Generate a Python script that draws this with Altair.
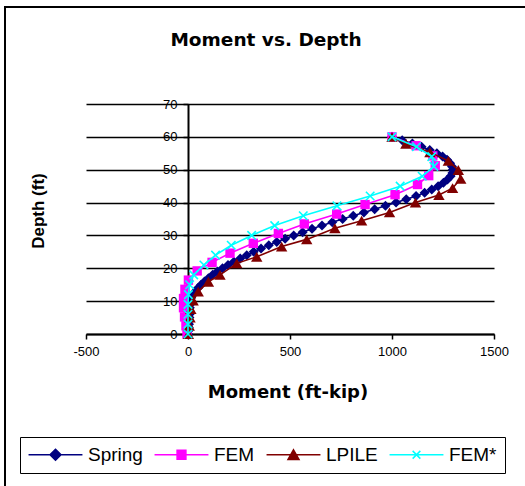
import altair as alt
import pandas as pd

# ---- data -------------------------------------------------------------
series_names = ["Spring", "FEM", "LPILE", "FEM*"]
series_colors = ["#000080", "#FF00FF", "#800000", "#00FFFF"]

spring_depth = [60, 59, 58, 57, 56, 55, 54, 53, 52, 51, 50, 49, 48, 47, 46, 45,
                44, 43, 42, 41, 40, 39, 38, 37, 36, 35, 34, 33, 32, 31, 30, 29,
                28, 27, 26, 25, 24, 23, 22, 21, 20, 19, 18, 17, 16, 15, 14, 13,
                12, 11, 10, 9, 8, 7, 6, 5, 4, 3, 2, 1, 0]
spring_moment = [1000, 1050, 1100, 1145, 1185, 1220, 1248, 1270, 1285, 1294,
                 1298, 1296, 1287, 1272, 1252, 1226, 1195, 1160, 1118, 1070,
                 1020, 968, 915, 862, 810, 758, 707, 657, 608, 562, 518, 476,
                 435, 396, 358, 322, 288, 256, 225, 196, 169, 144, 121, 100,
                 81, 64, 49, 36, 25, 16, 12, 10, 9, 8, 8, 7, 6, 5, 4, 2, 0]

fem_depth = [60, 57.3, 54.2, 51.2, 48.2, 45.5, 42.4, 39.4, 36.5, 33.5, 30.6,
             27.6, 24.6, 21.8, 19.2, 16.4, 13.6, 10.8, 8.0, 5.2, 2.5, 0]
fem_moment = [1000, 1118, 1200, 1212, 1180, 1125, 1015, 868, 729, 570, 443,
              320, 206, 118, 45, 2, -15, -22, -22, -17, -10, -5]

lpile_depth = [60, 57.9, 55.3, 52.7, 49.9, 47.2, 44.4, 42.3, 40.0, 37.0, 34.5,
               32.2, 28.8, 26.6, 23.5, 21.5, 18.0, 15.9, 12.9, 10.2, 7.6, 5.0,
               2.5, 0]
lpile_moment = [1000, 1068, 1186, 1276, 1325, 1337, 1297, 1230, 1115, 988, 851,
                720, 582, 459, 337, 239, 157, 100, 50, 25, 14, 10, 6, 2]

femstar_depth = [60, 57, 54, 51, 48, 45, 42, 39, 36, 33, 30, 27, 24, 21, 18,
                 15, 12, 9, 6, 3, 0]
femstar_moment = [1000, 1120, 1195, 1205, 1148, 1040, 893, 730, 565, 425, 312,
                  212, 135, 78, 28, 8, 2, 0, 0, 0, 0]

x_ticks = [-500, 0, 500, 1000, 1500]
y_ticks = [0, 10, 20, 30, 40, 50, 60, 70]

chart_title = "Moment vs. Depth"
x_title = "Moment (ft-kip)"
y_title = "Depth (ft)"

depths = [spring_depth, fem_depth, lpile_depth, femstar_depth]
moments = [spring_moment, fem_moment, lpile_moment, femstar_moment]

frames = []
for name, d, m in zip(series_names, depths, moments):
    frames.append(pd.DataFrame({"series": name, "depth": d, "moment": m,
                                "seq": list(range(len(d)))}))
df = pd.concat(frames, ignore_index=True)

# ---- layout -----------------------------------------------------------
W, H = 408, 230
PAD = {"left": 86, "top": 104, "right": 31, "bottom": 152}

# plain integer labels with an ASCII hyphen for negatives
plain_label = "'' + datum.value"

x_enc = alt.X(
    "moment:Q",
    scale=alt.Scale(domain=[-500, 1500], nice=False, zero=False),
    axis=alt.Axis(values=x_ticks, labelExpr=plain_label, title=None,
                  grid=False, domainColor="black", domainWidth=2,
                  tickColor="black", tickSize=5, tickWidth=1.5,
                  labelFont="Liberation Sans", labelFontSize=13,
                  labelColor="black", labelPadding=6, labelFlush=False),
)
y_enc = alt.Y(
    "depth:Q",
    scale=alt.Scale(domain=[0, 70], nice=False, zero=False),
    axis=alt.Axis(values=y_ticks, labelExpr=plain_label, title=None,
                  grid=True, gridColor="black", gridWidth=1.5, gridOpacity=1,
                  offset=-102, domainColor="black", domainWidth=2,
                  tickColor="black", tickSize=5, tickWidth=1.5,
                  labelFont="Liberation Sans", labelFontSize=13,
                  labelColor="black", labelPadding=6),
)

base = alt.Chart(df)

marker_styles = {
    "Spring": dict(shape="diamond", filled=True, size=100),
    "FEM": dict(shape="square", filled=True, size=88),
    "LPILE": dict(shape="triangle-up", filled=True, size=130),
    "FEM*": dict(shape="M-1,-1L1,1M-1,1L1,-1", filled=False, size=72,
                 strokeWidth=1.6),
}

layers = []

# outer chart frame
frame = alt.Chart(alt.Data(values=[{}])).mark_rect(
    fill=None, stroke="black", strokeWidth=2
).encode(x=alt.value(-81), x2=alt.value(470), y=alt.value(-97),
         y2=alt.value(420))
layers.append(frame)

for name, color in zip(series_names, series_colors):
    sub = base.transform_filter(alt.datum.series == name)
    line = sub.mark_line(color=color, strokeWidth=1.6).encode(
        x=x_enc, y=y_enc, order=alt.Order("seq:Q"))
    pts = sub.mark_point(color=color, opacity=1, **marker_styles[name]).encode(
        x=x_enc, y=y_enc)
    layers += [line, pts]

# legend symbols: connecting line plus the series marker
legend_paths = [
    "M-4.9,0L4.9,0M0,-1L1,0L0,1L-1,0Z",
    "M-4.9,0L4.9,0M-0.8,-0.8L0.8,-0.8L0.8,0.8L-0.8,0.8Z",
    "M-4.9,0L4.9,0M0,-0.9L1,0.85L-1,0.85Z",
    "M-4.9,0L4.9,0M-0.7,-0.7L0.7,0.7M-0.7,0.7L0.7,-0.7",
]
legend_def = alt.Legend(
    title=None, orient="none", legendX=-66, legendY=333,
    direction="horizontal", columns=4, strokeColor="black", fillColor="white",
    padding=8, symbolSize=121, symbolStrokeWidth=1.5, symbolOpacity=1,
    symbolOffset=18, labelOffset=23, columnPadding=8,
    labelFont="Liberation Sans", labelFontSize=19, labelColor="black",
    labelLimit=200,
)
legend_carrier = base.mark_point(filled=True, strokeWidth=1.5, opacity=1).encode(
    fill=alt.Fill("series:N", scale=alt.Scale(domain=series_names,
                                              range=series_colors),
                  legend=legend_def),
    stroke=alt.Stroke("series:N", scale=alt.Scale(domain=series_names,
                                                  range=series_colors),
                      legend=legend_def),
    shape=alt.Shape("series:N", scale=alt.Scale(domain=series_names,
                                                range=legend_paths),
                    legend=legend_def),
).transform_filter("false")
layers.append(legend_carrier)


def label(text, x, y, size, font, angle=0):
    return alt.Chart(alt.Data(values=[{"t": text}])).mark_text(
        font=font, fontSize=size, fontWeight="bold", color="black",
        align="center", baseline="middle", angle=angle,
    ).encode(x=alt.value(x), y=alt.value(y), text="t:N")


layers.append(label(chart_title, 180, -64.5, 18.5, "DejaVu Sans"))
layers.append(label(x_title, 202, 289, 18, "DejaVu Sans"))
layers.append(label(y_title, -47.5, 107, 17, "Liberation Sans", angle=270))

chart = alt.layer(*layers).properties(
    width=W, height=H, padding=PAD,
    autosize=alt.AutoSizeParams(type="none"),
    background="white",
).configure_view(stroke=None)

chart.save("out.html", embed_options={"renderer": "svg", "actions": False})
